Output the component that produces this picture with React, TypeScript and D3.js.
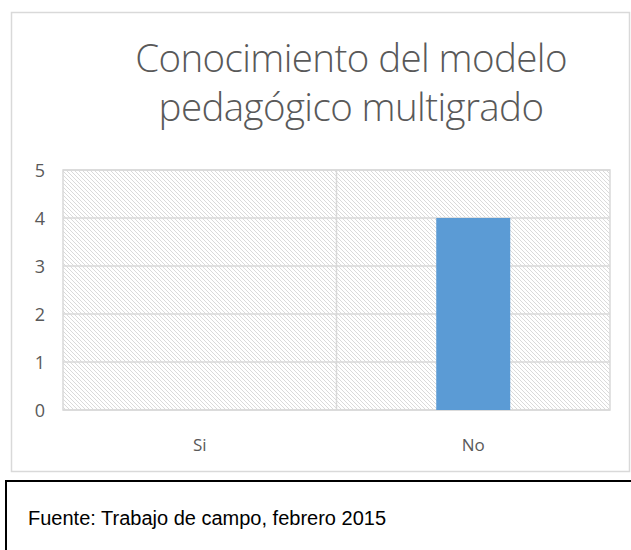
import React from "react";
import * as d3 from "d3";

const categories = ["Si", "No"];
const values = [0, 4];
const yTicks = [0, 1, 2, 3, 4, 5];
const titleLines = ["Conocimiento del modelo", "pedagógico multigrado"];
const sourceText = "Fuente: Trabajo de campo, febrero 2015";

export default function App() {
  const W = 631, H = 550;
  const left = 63, right = 610, top = 170, bottom = 410;
  const x = d3.scaleBand().domain(categories).range([left, right]).paddingInner(0).paddingOuter(0);
  const y = d3.scaleLinear().domain([0, 5]).range([bottom, top]);
  const barW = 74;
  const grey = "#d9d9d9";
  return (
    <svg width={W} height={H} style={{ position: "absolute", left: 0, top: 0 }} xmlns="http://www.w3.org/2000/svg">
      <defs>
        <pattern id="hatch" width="4" height="4" patternUnits="userSpaceOnUse">
          <rect width="4" height="4" fill="#fff" />
          <path d="M-1,-1 L5,5 M-1,3 L1,5 M3,-1 L5,1" stroke="#dadada" strokeWidth="1" />
        </pattern>
      </defs>
      <rect x={0} y={0} width={W} height={H} fill="#fff" />
      <rect x={11.5} y={12.5} width={618} height={459} fill="#fff" stroke={grey} strokeWidth={1.5} />
      {titleLines.map((t, i) => (
        <text key={i} x={351} y={72 + i * 49} textAnchor="middle" fontFamily="'Open Sans', sans-serif" fontSize={38.5} fill="#595959" fontWeight={300} letterSpacing={-0.6}>{t}</text>
      ))}
      <rect x={left} y={top} width={right - left} height={bottom - top} fill="url(#hatch)" stroke={grey} strokeWidth={1.5} />
      {yTicks.map((t) => (
        <g key={t}>
          <line x1={left} x2={right} y1={y(t)} y2={y(t)} stroke={grey} strokeWidth={1.5} />
          <text x={40} y={y(t) + 7} textAnchor="middle" fontFamily="'Open Sans', sans-serif" fontSize={18} fill="#595959">{t}</text>
        </g>
      ))}
      <line x1={x("No")!} x2={x("No")!} y1={top} y2={bottom} stroke={grey} strokeWidth={1.5} />
      {categories.map((c, i) => (
        <g key={c}>
          {values[i] > 0 && (
            <rect x={x(c)! + x.bandwidth() / 2 - barW / 2} y={y(values[i])} width={barW} height={y(0) - y(values[i])} fill="#5b9bd5" />
          )}
          <text x={x(c)! + x.bandwidth() / 2} y={451} textAnchor="middle" fontFamily="'Open Sans', sans-serif" fontSize={17} fill="#595959">{c}</text>
        </g>
      ))}
      <rect x={6} y={481} width={640} height={90} fill="none" stroke="#000" strokeWidth={2} />
      <text x={28} y={525} fontFamily="'Liberation Sans', Arial, sans-serif" fontSize={20} fill="#000">{sourceText}</text>
    </svg>
  );
}
